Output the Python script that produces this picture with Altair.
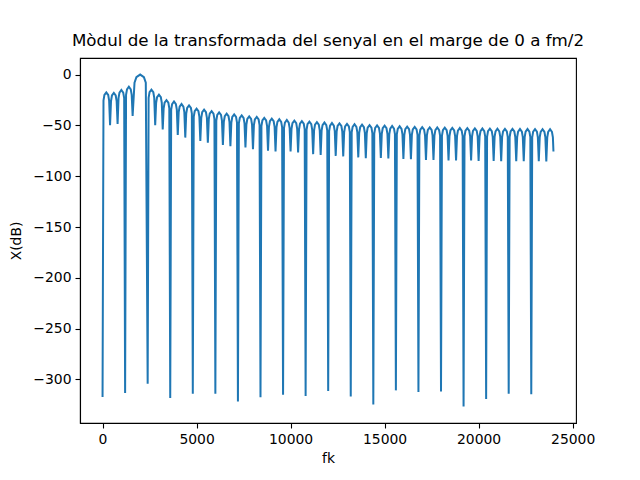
import altair as alt
import pandas as pd

# nuls de l'espectre: freqüencia (Hz) i nivell (dB) llegits de la figura
nul_hz = [0, 400, 800, 1200, 1600, 2400, 2800, 3200, 3600, 4000, 4400, 4800,
          5200, 5600, 6000, 6400, 6800, 7200, 7600, 8000, 8400, 8800, 9200,
          9600, 10000, 10400, 10800, 11200, 11600, 12000, 12400, 12800, 13200,
          13600, 14000, 14400, 14800, 15200, 15600, 16000, 16400, 16800, 17200,
          17600, 18000, 18400, 18800, 19200, 19600, 20000, 20400, 20800, 21200,
          21600, 22000, 22400, 22800, 23200, 23600]
nul_db = [-317.2, -49.8, -48.5, -313.3, -40.8, -304.2, -49.8, -54.0, -318.2,
          -59.5, -62.0, -313.9, -65.4, -67.0, -313.9, -69.3, -70.5, -321.7,
          -71.8, -73.5, -317.5, -75.0, -75.7, -314.9, -75.7, -76.7, -316.2,
          -78.3, -79.0, -311.4, -80.0, -80.5, -316.8, -81.5, -82.3, -324.6,
          -82.0, -82.6, -310.7, -83.0, -83.2, -312.3, -83.9, -84.0, -311.7,
          -84.5, -84.5, -326.5, -84.5, -85.0, -319.1, -85.0, -85.2, -313.9,
          -85.2, -85.3, -314.6, -85.3, -85.4]

# maxim de cada lobul (un per lobul, entre nuls consecutius)
pic_db = [-17.5, -18.1, -15.2, -12.0, 0.0, -14.9, -19.7, -25.2, -26.5, -29.0,
          -30.4, -33.6, -34.6, -35.9, -37.2, -38.5, -39.2, -40.1, -41.1, -41.7,
          -42.7, -43.4, -44.0, -44.7, -45.3, -45.8, -46.3, -46.8, -47.2, -47.7,
          -48.1, -48.5, -48.9, -49.3, -49.7, -50.0, -50.3, -50.6, -50.9, -51.2,
          -51.4, -51.7, -51.9, -52.1, -52.3, -52.5, -52.6, -52.8, -52.9, -53.1,
          -53.2, -53.3, -53.4, -53.5, -53.6, -53.6, -53.7, -53.8, -53.8]

# forma d'un lobul: posicio relativa i caiguda respecte al maxim (dB)
forma_pos = [0.125, 0.25, 0.5, 0.75, 0.875]
forma_db = [-8.0, -2.5, 0.0, -2.5, -8.0]

# darrer punt de la corba, just abans de fm/2
fm_mig = 24000
final_hz = 23980
final_db = -75.7

eix_x = [0, 5000, 10000, 15000, 20000, 25000]
eix_y = [0, -50, -100, -150, -200, -250, -300]

files = []
for i, pic in enumerate(pic_db):
    a = nul_hz[i]
    b = nul_hz[i + 1] if i + 1 < len(nul_hz) else fm_mig
    files.append({"fk": a, "db": nul_db[i]})
    for p, d in zip(forma_pos, forma_db):
        f = a + p * (b - a)
        if f < final_hz:
            files.append({"fk": f, "db": pic + d})
files.append({"fk": final_hz, "db": final_db})
df = pd.DataFrame(files)
df["ordre"] = range(len(df))

titol = "Mòdul de la transformada del senyal en el marge de 0 a fm/2"

chart = alt.Chart(df).mark_line(color="#1f77b4", strokeWidth=2).encode(
    x=alt.X("fk:Q",
            scale=alt.Scale(domain=[-1199, 25179], nice=False, zero=False),
            axis=alt.Axis(values=eix_x, format="d", title="fk")),
    y=alt.Y("db:Q",
            scale=alt.Scale(domain=[-342.8, 16.3], nice=False, zero=False),
            axis=alt.Axis(values=eix_y, title="X(dB)")),
    order="ordre:Q",
).properties(
    width=496,
    height=365,
    autosize=alt.AutoSizeParams(type="none"),
    padding={"left": 72, "top": 50, "right": 48, "bottom": 50},
    title=alt.TitleParams(titol, fontSize=16.7, font="DejaVu Sans",
                          fontWeight="normal", color="black", offset=8),
).configure_axis(
    grid=False,
    labelFont="DejaVu Sans",
    labelFontSize=13.9,
    labelColor="black",
    titleFont="DejaVu Sans",
    titleFontSize=13.9,
    titleFontWeight="normal",
    titleColor="black",
    domainColor="black",
    domainWidth=1.1,
    tickColor="black",
    tickWidth=1.1,
    tickSize=5,
    labelPadding=4,
).configure_axisY(
    titlePadding=9,
).configure_axisX(
    titlePadding=6,
).configure_view(
    stroke="black",
    strokeWidth=1.1,
)

chart.save("out.html", embed_options={"renderer": "svg", "actions": False})
